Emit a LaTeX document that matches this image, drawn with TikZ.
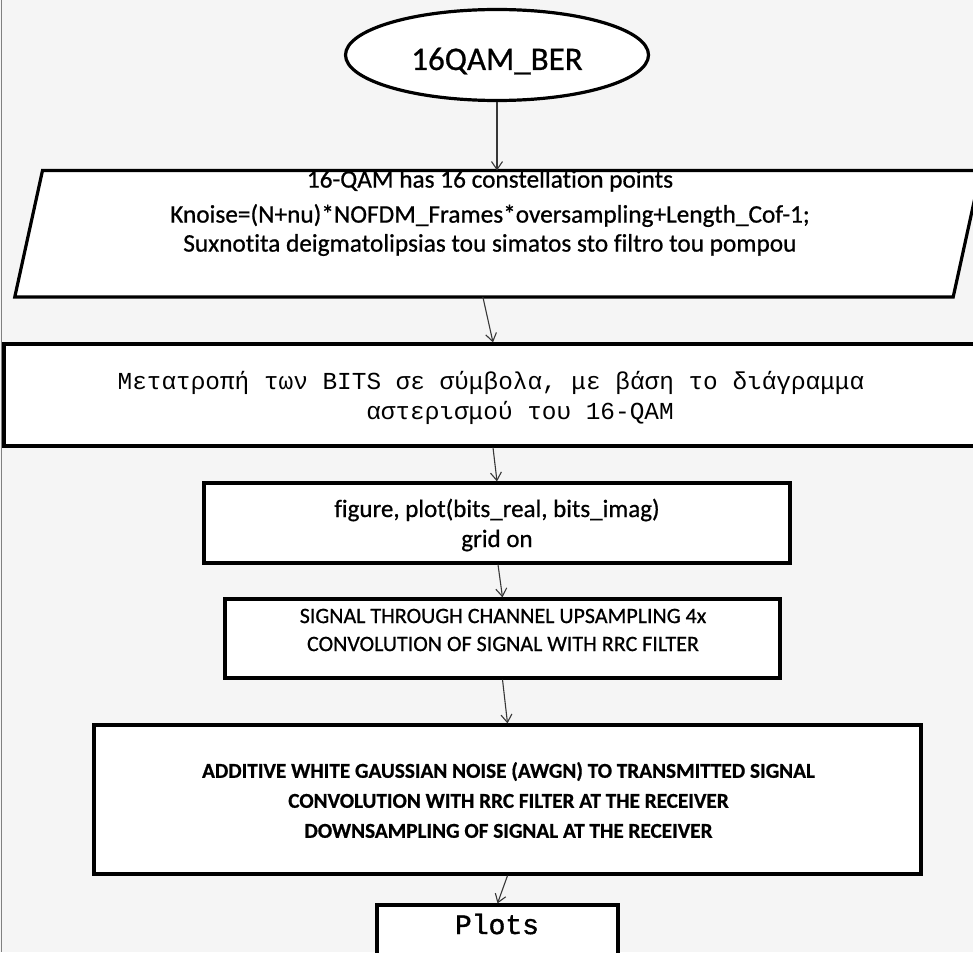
\documentclass[tikz,border=0pt]{standalone}
\usepackage{fontspec}
\setmainfont{Carlito}[FakeBold=0.7,Ligatures=NoCommon]
\newfontfamily\monofont{Liberation Mono}
\newfontfamily\monoheavy{Liberation Mono}[FakeBold=1.5]
\usetikzlibrary{arrows.meta,shapes.geometric}
\definecolor{bgcol}{RGB}{245,245,245}
\definecolor{conncol}{RGB}{55,55,55}
\tikzset{
  shapeline/.style={draw=black, line width=3.2pt, fill=white},
  boxnode/.style={shapeline, rectangle, inner sep=0pt},
  txt/.style={align=center, inner sep=0pt, text=black},
  conn/.style={draw=conncol, line width=1.1pt, -{Straight Barb[length=8pt,width=11pt]}},
}
\begin{document}
\begin{tikzpicture}[x=1pt,y=-1pt]
\useasboundingbox (0,0) rectangle (973,952);
\clip (0,0) rectangle (973,952);
\fill[bgcol] (0,0) rectangle (973,952);
\draw[gray, line width=1.2pt] (1.2,0) -- (1.2,952);

% start ellipse
\node[ellipse, shapeline, inner sep=0pt, minimum width=303pt, minimum height=91pt,
      text height=30pt, text depth=0pt,
      font=\fontsize{33}{39}\selectfont] (start) at (497,55) {16QAM\_BER};

% parallelogram (input)
\node[inner sep=0pt, minimum width=965.7pt, minimum height=126pt] (para) at (497.85,233.7) {};
\fill[white] ([xshift=27.7pt]para.north west) -- (para.north east)
  -- ([xshift=-27.7pt]para.south east) -- (para.south west) -- cycle;
\node[txt, font=\fontsize{25.3}{29}\selectfont] (paratext) at (490,213)
  {16-QAM has 16 constellation points\\[6pt]
   Knoise=(N+nu)*NOFDM\_Frames*oversampling+Length\_Cof-1;\\
   Suxnotita deigmatolipsias tou simatos sto filtro tou pompou};
\draw[shapeline, fill=none] ([xshift=27.7pt]para.north west) -- (para.north east)
  -- ([xshift=-27.7pt]para.south east) -- (para.south west) -- cycle;

% conversion box
\node[boxnode, minimum width=986pt, minimum height=102pt] (conv) at (497,395) {};
\node[txt, font=\monofont\fontsize{24.4}{30}\selectfont] (convtext) at (491,398)
  {Μετατροπή των BITS σε σύμβολα, με βάση το διάγραμμα\\
   \hspace*{58pt}αστερισμού του 16-QAM};

% figure box
\node[boxnode, minimum width=586pt, minimum height=80pt] (fig) at (497,523) {};
\node[txt, font=\fontsize{25}{30}\selectfont] (figtext) at (497,525)
  {figure, plot(bits\_real, bits\_imag)\\grid on};

% channel box
\node[boxnode, minimum width=555pt, minimum height=79pt] (chan) at (502.5,638.5) {};
\node[txt, font=\fontsize{22}{28}\selectfont] (chantext) at (503,630)
  {SIGNAL THROUGH CHANNEL UPSAMPLING 4x\\CONVOLUTION OF SIGNAL WITH RRC FILTER};

% awgn box
\node[boxnode, minimum width=827pt, minimum height=149pt] (awgn) at (507.5,799.5) {};
\node[txt, font=\bfseries\fontsize{21.2}{30}\selectfont] (awgntext) at (508.5,800)
  {ADDITIVE WHITE GAUSSIAN NOISE (AWGN) TO TRANSMITTED SIGNAL\\
   CONVOLUTION WITH RRC FILTER AT THE RECEIVER\\
   DOWNSAMPLING OF SIGNAL AT THE RECEIVER};

% plots box
\node[boxnode, minimum width=241pt, minimum height=60pt] (plots) at (497.5,935) {};
\node[txt, font=\monoheavy\fontsize{28}{32}\selectfont] (plotstext) at (497,924) {Plots};

% connectors
\draw[conn] (start.south) -- (start.south |- para.north);
\draw[conn] ([xshift=-15pt]para.south) -- ([xshift=-4pt]conv.north);
\draw[conn] ([xshift=-4pt]conv.south) -- (fig.north);
\draw[conn] ([xshift=1pt]fig.south) -- (chan.north);
\draw[conn] (chan.south) -- (awgn.north);
\draw[conn] (awgn.south) -- (plots.north);
\end{tikzpicture}
\end{document}
